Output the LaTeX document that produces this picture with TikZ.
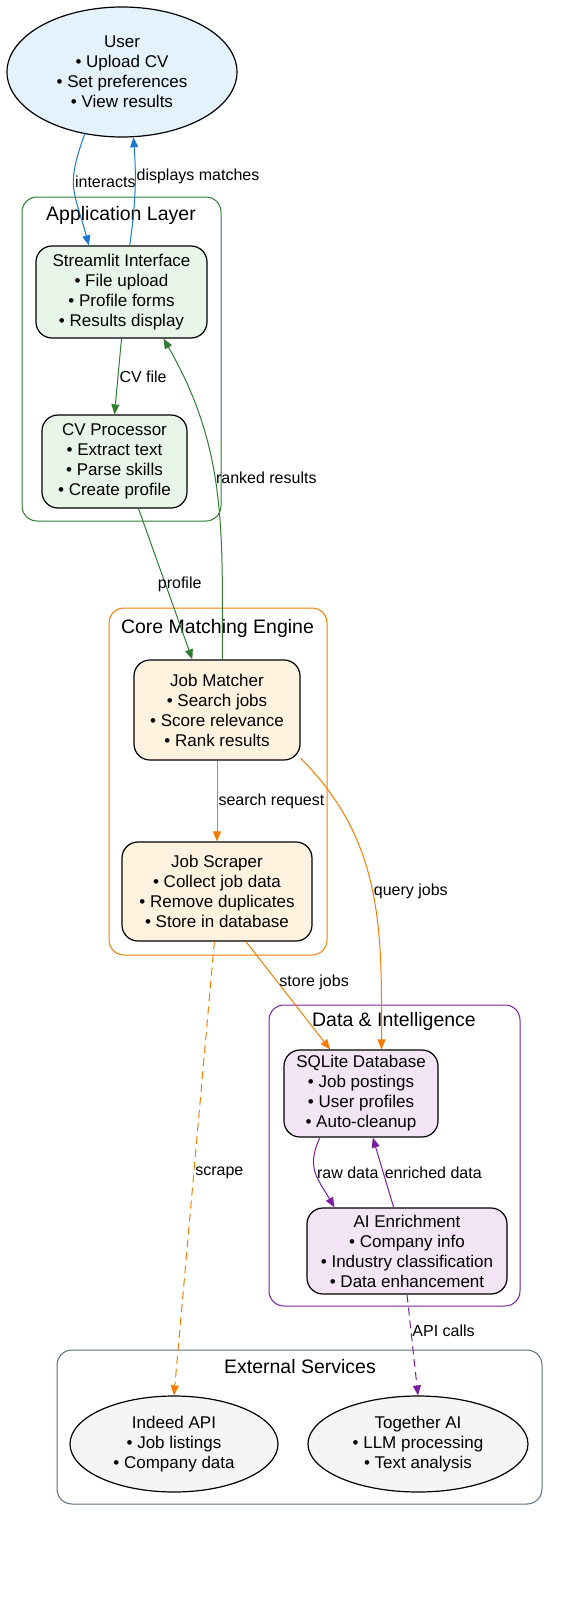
\documentclass[tikz,border=0pt]{standalone}
\usepackage{fontspec}
\setmainfont{Liberation Sans}
\usepackage{xcolor}
\usetikzlibrary{arrows.meta, shapes.geometric}

\definecolor{userfill}{HTML}{E3F2FD}
\definecolor{userblue}{HTML}{1976D2}
\definecolor{appfill}{HTML}{E8F5E9}
\definecolor{appgreen}{HTML}{2E7D32}
\definecolor{corefill}{HTML}{FFF3E0}
\definecolor{coreorange}{HTML}{F57C00}
\definecolor{datafill}{HTML}{F3E5F5}
\definecolor{datapurple}{HTML}{7B1FA2}
\definecolor{extfill}{HTML}{F5F5F5}
\definecolor{extgray}{HTML}{546E7A}

\newcommand{\boxfont}{\fontsize{17}{20}\selectfont}
\newcommand{\lblfont}{\fontsize{16}{19}\selectfont}
\newcommand{\grpfont}{\fontsize{19.5}{22}\selectfont}

\begin{document}
\begin{tikzpicture}[x=1pt, y=1pt, >={Triangle[length=10pt, width=8pt]},
  comp/.style={draw, line width=1.2pt, rounded corners=16pt, align=center, inner sep=0pt, font=\boxfont},
  svc/.style={ellipse, draw, line width=1.2pt, align=center, inner sep=0pt, font=\boxfont},
  grp/.style={draw, line width=1pt, rounded corners=15pt, inner sep=0pt},
  grplbl/.style={font=\grpfont, inner sep=0pt},
  lbl/.style={font=\lblfont, text=black, inner sep=1pt, anchor=west},
  flow/.style={->, line width=1pt},
  ext/.style={flow, dash pattern=on 8pt off 5pt}]
  \useasboundingbox (0,0) rectangle (585,-1600);

  % Groups
  \node[grp, draw=appgreen, minimum width=199pt, minimum height=324pt] (applayer) at (121.5,-359) {};
  \node[grplbl] (applbl) at (121,-215) {Application Layer};
  \node[grp, draw=coreorange, minimum width=218pt, minimum height=347pt] (corelayer) at (218,-781.5) {};
  \node[grplbl] (corelbl) at (217.5,-628) {Core Matching Engine};
  \node[grp, draw=datapurple, minimum width=251pt, minimum height=301pt] (datalayer) at (394.5,-1155.5) {};
  \node[grplbl] (datalbl) at (394,-1021) {Data \& Intelligence};
  \node[grp, draw=extgray, minimum width=485pt, minimum height=154pt] (extlayer) at (299.5,-1427) {};
  \node[grplbl] (extlbl) at (300,-1367) {External Services};

  % Components
  \node[svc, fill=userfill, minimum width=230pt, minimum height=130pt] (user) at (122,-72) {User\\• Upload CV\\• Set preferences\\• View results};
  \node[comp, fill=appfill, minimum width=171pt, minimum height=92pt] (ui) at (121.5,-292) {Streamlit Interface\\• File upload\\• Profile forms\\• Results display};
  \node[comp, fill=appfill, minimum width=145pt, minimum height=93pt] (cv) at (114.5,-461.5) {CV Processor\\• Extract text\\• Parse skills\\• Create profile};
  \node[comp, fill=corefill, minimum width=166pt, minimum height=100pt] (match) at (217,-710) {Job Matcher\\• Search jobs\\• Score relevance\\• Rank results};
  \node[comp, fill=corefill, minimum width=190pt, minimum height=99pt] (scrape) at (217,-891.5) {Job Scraper\\• Collect job data\\• Remove duplicates\\• Store in database};
  \node[comp, fill=datafill, minimum width=154pt, minimum height=87pt] (db) at (361,-1093.5) {SQLite Database\\• Job postings\\• User profiles\\• Auto-cleanup};
  \node[comp, fill=datafill, minimum width=200pt, minimum height=86pt] (ai) at (407,-1251) {AI Enrichment\\• Company info\\• Industry classification\\• Data enhancement};
  \node[svc, fill=extfill, minimum width=208pt, minimum height=96pt] (indeed) at (174,-1444) {Indeed API\\• Job listings\\• Company data};
  \node[svc, fill=extfill, minimum width=220pt, minimum height=96pt] (together) at (418,-1444) {Together AI\\• LLM processing\\• Text analysis};

  % User and interface
  \draw[flow, userblue] (user.239) to[out=-110, in=105, looseness=1.3] node[lbl, pos=.42] {interacts} (ui.125);
  \draw[flow, userblue] (ui.80) to[bend right=6] node[lbl, pos=.65] {displays matches} (user.-80);
  % Application flow
  \draw[flow, appgreen] (ui.south) -- node[lbl, pos=.5] {CV file} (cv.north);
  \draw[flow, appgreen] (cv.-63) -- node[lbl, pos=.5, xshift=-9pt] {profile} (match.116);
  \draw[flow, appgreen] (match.84) to[out=90, in=-60] node[lbl, pos=.55] {ranked results} (ui.-48);
  % Matching engine
  \draw[flow, coreorange] (match.south) -- node[lbl, pos=.5] {search request} (scrape.north);
  \draw[flow, coreorange] (match.-30) to[out=-45, in=90] node[lbl, pos=.5] {query jobs} (db.65);
  \draw[flow, coreorange] (scrape.-60) -- node[lbl, pos=.38] {store jobs} (db.125);
  \draw[ext, coreorange] (scrape.-93) -- node[lbl, pos=.51] {scrape} (indeed.north);
  % Data layer
  \draw[flow, datapurple] (db.-133) to[out=-115, in=120, looseness=1.2] node[lbl, pos=.5] {raw data} (ai.149);
  \draw[flow, datapurple] (ai.107) -- node[lbl, pos=.5] {enriched data} (db.-75);
  \draw[ext, datapurple] (ai.south) -- node[lbl, pos=.36] {API calls} (together.north);
\end{tikzpicture}
\end{document}
